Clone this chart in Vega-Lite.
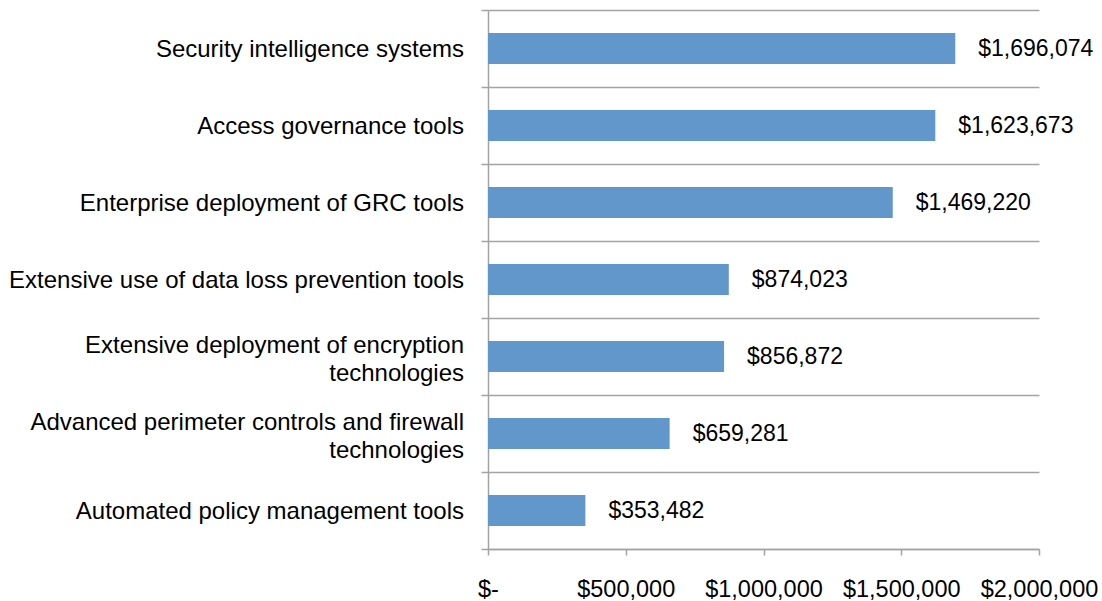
{
  "$schema": "https://vega.github.io/schema/vega-lite/v6.json",
  "width": 551,
  "height": 539,
  "autosize": "none",
  "padding": {"left": 488, "top": 10, "right": 63, "bottom": 52},
  "background": "white",
  "config": {"view": {"stroke": null}, "font": "Liberation Sans"},
  "data": {
    "values": [
      {"category": "Security intelligence systems", "value": 1696074},
      {"category": "Access governance tools", "value": 1623673},
      {"category": "Enterprise deployment of GRC tools", "value": 1469220},
      {"category": "Extensive use of data loss prevention tools", "value": 874023},
      {"category": "Extensive deployment of encryption\ntechnologies", "value": 856872},
      {"category": "Advanced perimeter controls and firewall\ntechnologies", "value": 659281},
      {"category": "Automated policy management tools", "value": 353482}
    ]
  },
  "encoding": {
    "y": {
      "field": "category",
      "type": "nominal",
      "sort": null,
      "scale": {"paddingInner": 0, "paddingOuter": 0},
      "axis": {
        "title": null,
        "tickBand": "extent",
        "grid": true,
        "gridColor": "#a3a3a3",
        "gridWidth": 1.5,
        "domainColor": "#a3a3a3",
        "domainWidth": 1.5,
        "tickColor": "#a3a3a3",
        "tickWidth": 1.5,
        "tickSize": 7,
        "labels": false
      }
    },
    "x": {
      "field": "value",
      "type": "quantitative",
      "scale": {"domain": [0, 2000000], "nice": false},
      "axis": {
        "title": null,
        "values": [0, 500000, 1000000, 1500000, 2000000],
        "grid": false,
        "labelExpr": "datum.value == 0 ? '$-' : format(datum.value, '$,.0f')",
        "tickSize": 6,
        "tickColor": "#a3a3a3",
        "tickWidth": 1.5,
        "domainColor": "#a3a3a3",
        "domainWidth": 1.5,
        "labelFontSize": 23.5,
        "labelColor": "#000000",
        "labelBaseline": "alphabetic",
        "labelPadding": 41,
        "labelFlush": false,
        "labelOverlap": false
      }
    }
  },
  "layer": [
    {"mark": {"type": "bar", "color": "#6197CB", "height": {"band": 0.4}}},
    {
      "mark": {"type": "text", "align": "left", "dx": 23, "fontSize": 23, "color": "#000000"},
      "encoding": {"text": {"field": "value", "type": "quantitative", "format": "$,.0f"}}
    },
    {
      "mark": {
        "type": "text",
        "align": "right",
        "baseline": "middle",
        "dx": -24,
        "dy": {"expr": "indexof(datum.category, '\\n') >= 0 ? -11 : 1"},
        "fontSize": 24,
        "lineBreak": "\n",
        "lineHeight": 28,
        "color": "#000000"
      },
      "encoding": {
        "x": {"datum": 0},
        "text": {"field": "category", "type": "nominal"}
      }
    }
  ]
}
